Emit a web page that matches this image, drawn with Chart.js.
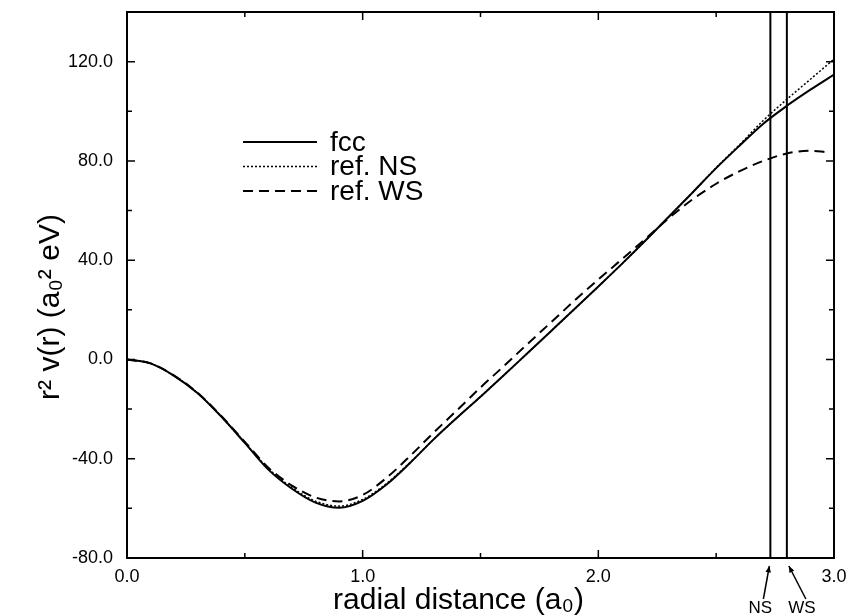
<!DOCTYPE html>
<html><head><meta charset="utf-8">
<script src="https://cdn.jsdelivr.net/npm/chart.js@4.4.0/dist/chart.umd.min.js"></script>
<style>html,body{margin:0;padding:0;background:#fff;}</style>
</head><body>
<canvas id="c" width="848" height="616"></canvas>
<script>
// ---- data ----
const radius = [0.0,0.1,0.2,0.3,0.4,0.5,0.6,0.7,0.8,0.9,1.0,1.1,1.2,1.3,1.4,1.5,1.6,1.7,1.8,1.9,2.0,2.1,2.2,2.3,2.4,2.5,2.6,2.7,2.8,2.9,3.0];
const fcc   = [0,-1.6,-6.6,-13.6,-23.0,-33.6,-44.4,-52.1,-57.7,-59.8,-57.0,-50.5,-41.8,-32.3,-23.5,-15.0,-6.3,2.6,11.5,20.4,29.4,38.5,47.9,57.6,67.3,77.1,86.2,95.0,102.2,108.7,114.8];
const refNS = [0,-1.6,-6.6,-13.6,-23.0,-33.6,-44.0,-51.6,-57.1,-59.1,-56.4,-50.1,-41.6,-32.3,-23.5,-15.0,-6.3,2.6,11.5,20.4,29.4,38.5,47.9,57.6,67.3,77.3,86.6,96.3,104.8,112.9,121.0];
const radiusWS = [0.0,0.1,0.2,0.3,0.4,0.5,0.6,0.7,0.8,0.9,1.0,1.1,1.2,1.3,1.4,1.5,1.6,1.7,1.8,1.9,2.0,2.1,2.2,2.3,2.4,2.5,2.6,2.7,2.8,2.9,2.97];
const refWS = [0,-1.6,-6.5,-13.5,-22.8,-33.2,-43.6,-50.8,-55.6,-57.2,-54.6,-47.8,-39.0,-29.6,-20.5,-11.3,-2.6,6.3,15.0,23.8,32.2,40.4,48.6,57.0,64.5,70.8,75.9,80.0,83.0,84.1,83.5];
const seriesLabels = ['fcc','ref. NS','ref. WS'];
const markerNames = ['NS','WS'];
const markerRadius = [2.73, 2.80];
const xTicks = [0,1,2,3];
const yTicks = [-80,-40,0,40,80,120];
const xRange = [0,3];
const yRange = [-80,140];
const xTitle = 'radial distance (a₀)';
const yTitle = 'r² v(r) (a₀² eV)';

const FONT = "'Liberation Sans', Arial, Helvetica, sans-serif";
const pts = (xs, ys) => xs.map((r,i)=>({x:r, y:ys[i]}));

// frame + inward ticks
const framePlugin = {
  id:'frame',
  afterDatasetsDraw(chart){
    const {ctx, chartArea:a, scales:{x,y}} = chart;
    ctx.save();
    ctx.strokeStyle='#000'; ctx.lineWidth=2; ctx.setLineDash([]);
    ctx.strokeRect(a.left, a.top, a.right-a.left, a.bottom-a.top);
    ctx.lineWidth=1.5;
    const yStep = (yTicks[1]-yTicks[0])/2;
    for(let v=yTicks[0]+yStep; v<yRange[1]; v+=yStep){
      const py=y.getPixelForValue(v); const len = yTicks.includes(v)?8:5;
      ctx.beginPath(); ctx.moveTo(a.left,py); ctx.lineTo(a.left+len,py);
      ctx.moveTo(a.right,py); ctx.lineTo(a.right-len,py); ctx.stroke();
    }
    const xStep = (xTicks[1]-xTicks[0])/2;
    for(let v=xTicks[0]+xStep; v<xRange[1]-1e-9; v+=xStep){
      const px=x.getPixelForValue(v); const len = xTicks.includes(Math.round(v*10)/10)?8:5;
      ctx.beginPath(); ctx.moveTo(px,a.bottom); ctx.lineTo(px,a.bottom-len);
      ctx.moveTo(px,a.top); ctx.lineTo(px,a.top+len); ctx.stroke();
    }
    ctx.restore();
  }
};

// axis titles (placed like the original figure)
const titlePlugin = {
  id:'axisTitles',
  afterDraw(chart){
    const {ctx, chartArea:a} = chart;
    ctx.save();
    ctx.fillStyle='#000'; ctx.font = `30px ${FONT}`;
    ctx.textAlign='center'; ctx.textBaseline='alphabetic';
    ctx.fillText(xTitle, (a.left+a.right)/2 - 22, a.bottom + 51);
    ctx.translate(a.left - 68, (a.top+a.bottom)/2 + 22);
    ctx.rotate(-Math.PI/2);
    ctx.fillText(yTitle, 0, 0);
    ctx.restore();
  }
};

// inline legend
const legendPlugin = {
  id:'inlineLegend',
  afterDatasetsDraw(chart){
    const {ctx, chartArea:a} = chart;
    ctx.save();
    ctx.fillStyle='#000'; ctx.strokeStyle='#000';
    ctx.font = `28px ${FONT}`; ctx.textBaseline='middle'; ctx.textAlign='left';
    chart.data.datasets.slice(0, seriesLabels.length).forEach((d,i)=>{
      const yy = a.top + 130 + i*24.5;
      ctx.lineWidth = d.borderWidth; ctx.setLineDash(d.borderDash||[]);
      ctx.beginPath(); ctx.moveTo(a.left+116,yy); ctx.lineTo(a.left+190,yy); ctx.stroke();
      ctx.setLineDash([]);
      ctx.fillText(d.label, a.left+203, yy+1);
    });
    ctx.restore();
  }
};

// NS / WS arrows under the axis
const markerPlugin = {
  id:'markers',
  afterDraw(chart){
    const {ctx, chartArea:a, scales:{x}} = chart;
    const tailShift = [-7, 19], labelShift = [-10, 15];
    ctx.save();
    ctx.strokeStyle='#000'; ctx.fillStyle='#000'; ctx.lineWidth=1.5;
    ctx.font = `17px ${FONT}`; ctx.textAlign='center'; ctx.textBaseline='middle';
    markerRadius.forEach((r,i)=>{
      const px = x.getPixelForValue(r);
      const tx = px - (i===0?1:-2), ty = a.bottom + 8;
      const sx = px + tailShift[i], sy = a.bottom + 41;
      ctx.beginPath(); ctx.moveTo(sx,sy); ctx.lineTo(tx,ty); ctx.stroke();
      const ang = Math.atan2(ty-sy, tx-sx), L=7, w=0.4;
      ctx.beginPath(); ctx.moveTo(tx,ty);
      ctx.lineTo(tx-L*Math.cos(ang-w), ty-L*Math.sin(ang-w));
      ctx.lineTo(tx-L*Math.cos(ang+w), ty-L*Math.sin(ang+w));
      ctx.closePath(); ctx.fill();
      ctx.fillText(markerNames[i], px + labelShift[i], a.bottom + 50);
    });
    ctx.restore();
  }
};

const base = {showLine:true, pointRadius:0, borderColor:'#000', backgroundColor:'#000', fill:false};
const datasets = [
  {...base, label:seriesLabels[0], data:pts(radius,fcc), borderWidth:2, cubicInterpolationMode:'monotone'},
  {...base, label:seriesLabels[1], data:pts(radius,refNS), borderWidth:1.5, borderDash:[2,2], cubicInterpolationMode:'monotone'},
  {...base, label:seriesLabels[2], data:pts(radiusWS,refWS), borderWidth:2, borderDash:[10,6], cubicInterpolationMode:'monotone'},
  ...markerRadius.map((r,i)=>({...base, label:markerNames[i]+' radius', data:[{x:r,y:yRange[0]},{x:r,y:yRange[1]}], borderWidth:2}))
];

new Chart(document.getElementById('c'), {
  type:'scatter',
  data:{datasets},
  options:{
    responsive:false, animation:false, devicePixelRatio:1,
    layout:{padding:{left:0,right:14,top:12,bottom:0}},
    plugins:{legend:{display:false}, tooltip:{enabled:false}},
    scales:{
      x:{type:'linear', min:xRange[0], max:xRange[1],
        afterBuildTicks:s=>{s.ticks = xTicks.map(v=>({value:v}));},
        afterFit:s=>{s.height=58; s.paddingLeft=0; s.paddingRight=0;},
        grid:{display:false, drawTicks:false}, border:{display:false},
        ticks:{padding:8, color:'#000', font:{family:FONT,size:18}, callback:v=>Number(v).toFixed(1), maxRotation:0},
        title:{display:false, text:xTitle}
      },
      y:{type:'linear', min:yRange[0], max:yRange[1],
        afterBuildTicks:s=>{s.ticks = yTicks.map(v=>({value:v}));},
        afterFit:s=>{s.width=127; s.paddingTop=0; s.paddingBottom=0;},
        grid:{display:false, drawTicks:false}, border:{display:false},
        ticks:{padding:14, color:'#000', font:{family:FONT,size:18}, callback:v=>Number(v).toFixed(1)},
        title:{display:false, text:yTitle}
      }
    }
  },
  plugins:[framePlugin, legendPlugin, markerPlugin, titlePlugin]
});
</script>
</body></html>
